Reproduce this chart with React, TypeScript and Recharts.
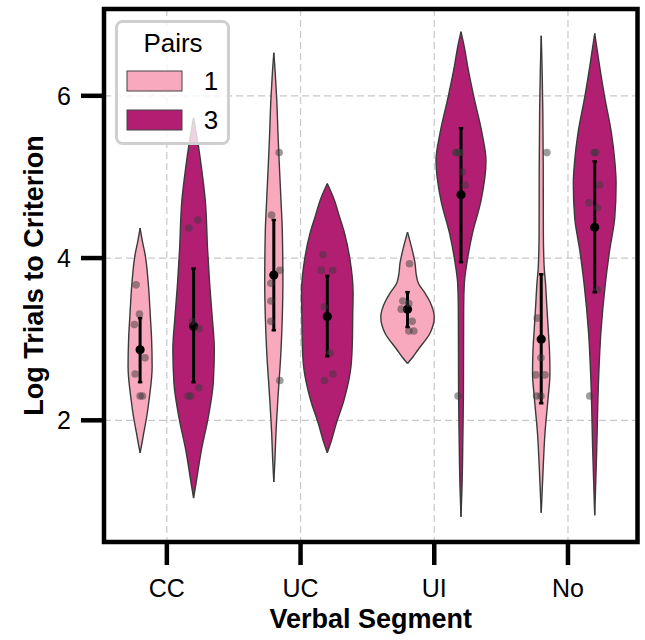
import React from 'react';
import {
  ComposedChart,
  Area,
  Scatter,
  Line,
  XAxis,
  YAxis,
  CartesianGrid,
  ReferenceArea,
  Legend,
} from 'recharts';

// ---------- data ----------
const categories = ['CC', 'UC', 'UI', 'No'];
const pairs = ['1', '3'];
const yTicks = [2, 4, 6];
const xTicks = [0, 1, 2, 3];

// violin outlines: [value, half-width of density in category units]
const violinCC1 = [[1.6, 0], [1.72, 0.014], [1.85, 0.028], [2.05, 0.05], [2.25, 0.067], [2.66, 0.09], [3.0, 0.086], [3.27, 0.077], [3.69, 0.061], [4.05, 0.037], [4.2, 0.018], [4.37, 0]];
const violinCC3 = [[1.04, 0], [1.23, 0.019], [1.63, 0.058], [2.04, 0.11], [2.46, 0.147], [2.87, 0.155], [3.3, 0.138], [3.69, 0.12], [4.1, 0.105], [4.72, 0.087], [5.1, 0.06], [5.37, 0.037], [5.73, 0]];
const violinUC1 = [[1.24, 0], [1.5, 0.008], [1.84, 0.016], [2.25, 0.03], [2.87, 0.054], [3.3, 0.064], [3.69, 0.068], [4.31, 0.064], [4.7, 0.054], [5.12, 0.042], [5.5, 0.032], [5.95, 0.022], [6.3, 0.01], [6.53, 0]];
const violinUC3 = [[1.6, 0], [1.72, 0.025], [1.96, 0.067], [2.25, 0.125], [2.66, 0.177], [3.0, 0.188], [3.27, 0.19], [3.57, 0.193], [4.0, 0.168], [4.3, 0.13], [4.5, 0.093], [4.75, 0.045], [4.92, 0]];
const violinUI1 = [[2.7, 0], [2.78, 0.04], [2.87, 0.079], [3.08, 0.17], [3.27, 0.2], [3.48, 0.162], [3.57, 0.13], [3.69, 0.081], [3.8, 0.065], [3.94, 0.056], [4.1, 0.035], [4.32, 0]];
const violinUI3 = [[0.81, 0], [1.2, 0.008], [1.8, 0.014], [2.3, 0.018], [2.87, 0.019], [3.4, 0.02], [3.69, 0.025], [3.95, 0.045], [4.3, 0.085], [4.71, 0.15], [5.2, 0.187], [5.54, 0.157], [5.98, 0.097], [6.36, 0.05], [6.6, 0.025], [6.79, 0]];
const violinNo1 = [[0.86, 0], [1.43, 0.015], [1.84, 0.028], [2.25, 0.05], [2.58, 0.065], [2.85, 0.062], [3.08, 0.054], [3.4, 0.042], [3.69, 0.032], [3.89, 0.022], [4.3, 0.016], [5.12, 0.015], [5.8, 0.012], [6.3, 0.007], [6.74, 0]];
const violinNo3 = [[0.83, 0], [1.63, 0.015], [2.46, 0.028], [3.08, 0.046], [3.69, 0.08], [4.1, 0.112], [4.5, 0.15], [4.92, 0.16], [5.2, 0.15], [5.54, 0.125], [5.98, 0.075], [6.36, 0.037], [6.77, 0]];

// individual observations: [value, jitter in category units]
const pointsCC1 = [[3.67, -0.03], [3.31, -0.005], [3.18, -0.043], [2.77, 0.037], [2.57, -0.037], [2.3, 0], [2.3, 0.018]];
const pointsCC3 = [[4.37, -0.035], [4.47, 0.032], [3.22, -0.01], [3.13, 0.04], [2.4, 0.04], [2.3, -0.042], [2.3, -0.022]];
const pointsUC1 = [[5.3, 0.04], [4.53, -0.017], [3.85, 0.045], [3.69, -0.022], [3.47, -0.022], [3.22, -0.022], [2.49, 0.045]];
const pointsUC3 = [[4.04, -0.032], [3.85, -0.045], [3.85, 0.04], [3.4, -0.022], [2.83, 0.022], [2.57, 0.042], [2.49, -0.022]];
const pointsUI1 = [[3.93, 0.015], [3.47, -0.035], [3.44, 0.01], [3.37, -0.047], [3.22, 0.035], [3.1, 0.01], [3.1, 0.047]];
const pointsUI3 = [[5.3, -0.04], [5.3, -0.015], [5.3, -0.03], [5.3, -0.008], [5.06, 0.01], [4.9, 0.03], [2.3, -0.022]];
const pointsNo1 = [[5.3, 0.042], [3.26, -0.03], [2.77, -0.002], [2.56, -0.04], [2.56, 0.028], [2.3, -0.035], [2.3, -0.002]];
const pointsNo3 = [[5.3, 0.008], [5.3, -0.005], [4.9, 0.037], [4.68, -0.043], [4.62, 0.02], [3.61, 0.02], [2.3, -0.037]];

// mean and 95% CI: [mean, low, high]
const statsCC1 = [2.87, 2.47, 3.26];
const statsCC3 = [3.16, 2.47, 3.87];
const statsUC1 = [3.79, 3.11, 4.47];
const statsUC3 = [3.28, 2.79, 3.78];
const statsUI1 = [3.37, 3.15, 3.58];
const statsUI3 = [4.78, 3.95, 5.6];
const statsNo1 = [3.0, 2.21, 3.8];
const statsNo3 = [4.38, 3.58, 5.19];

const violins = [[violinCC1, violinCC3], [violinUC1, violinUC3], [violinUI1, violinUI3], [violinNo1, violinNo3]];
const points = [[pointsCC1, pointsCC3], [pointsUC1, pointsUC3], [pointsUI1, pointsUI3], [pointsNo1, pointsNo3]];
const stats = [[statsCC1, statsCC3], [statsUC1, statsUC3], [statsUI1, statsUI3], [statsNo1, statsNo3]];

// ---------- style ----------
const FONT = '"Liberation Sans", Arial, Helvetica, sans-serif';
const pairColors = ['#F9A9BD', '#B21F72'];
const dodge = [-0.2, 0.2];
const xDomain = [-0.47, 3.52];
const yDomain = [0.5, 7.07];

const groups = categories.flatMap((cat, ci) =>
  pairs.map((p, pi) => {
    const center = ci + dodge[pi];
    const [mean, lo, hi] = stats[ci][pi];
    return {
      key: `${cat}-${p}`,
      color: pairColors[pi],
      outline: violins[ci][pi].map(([v, w]) => ({ v, range: [center - w, center + w] })),
      obs: points[ci][pi].map(([v, j]) => ({ v, x: center + j })),
      ci: [{ v: lo, x: center }, { v: hi, x: center }],
      mean: [{ v: mean, x: center }],
    };
  })
);

const Dot = (r: number, fill: string, opacity: number) => (props: any) => {
  const { cx, cy } = props;
  if (cx == null || cy == null) return <g />;
  return <circle cx={cx} cy={cy} r={r} fill={fill} fillOpacity={opacity} stroke="none" />;
};

const Cap = (props: any) => {
  const { cx, cy, index } = props;
  if (cx == null || cy == null) return <g key={index} />;
  return <line key={index} x1={cx - 2.2} x2={cx + 2.2} y1={cy} y2={cy} stroke="#000" strokeWidth={2.5} />;
};

const LegendBox = () => (
  <svg width={116} height={126} style={{ display: 'block' }}>
    <rect x={1.5} y={1.5} width={112} height={122} rx={6} ry={6} fill="#ffffff" fillOpacity={0.8} stroke="#cfcfcf" strokeWidth={3} />
    <text x={58} y={32} textAnchor="middle" fontSize={26} fontFamily={FONT} fill="#000">Pairs</text>
    {pairs.map((p, i) => (
      <g key={p}>
        <rect x={12} y={51 + i * 39} width={55} height={20} fill={pairColors[i]} stroke="#444" strokeWidth={1} />
        <text x={96} y={70 + i * 39} textAnchor="middle" fontSize={26} fontFamily={FONT} fill="#000">{p}</text>
      </g>
    ))}
  </svg>
);

export default function App() {
  return (
    <div style={{ position: 'absolute', left: 0, top: 0, background: '#fff' }}>
      <ComposedChart
        width={645}
        height={640}
        layout="vertical"
        margin={{ top: 9, right: 7.5, bottom: 0, left: 0 }}
        style={{ fontFamily: FONT }}
      >
        <CartesianGrid stroke="#c8c8c8" strokeDasharray="7 4" strokeWidth={1.2} />
        <XAxis
          type="number"
          dataKey="x"
          domain={xDomain}
          allowDataOverflow
          ticks={xTicks}
          tickFormatter={(i: number) => categories[i]}
          height={98}
          axisLine={false}
          tickLine={{ stroke: '#000', strokeWidth: 4.5 }}
          tickSize={23}
          tickMargin={14}
          tick={{ fill: '#000', fontSize: 25, fontFamily: FONT }}
          label={{ value: 'Verbal Segment', position: 'insideBottom', offset: 12, fontSize: 27, fontWeight: 700, fill: '#000', fontFamily: FONT }}
        />
        <YAxis
          type="number"
          dataKey="v"
          domain={yDomain}
          allowDataOverflow
          reversed
          ticks={yTicks}
          width={104}
          axisLine={false}
          tickLine={{ stroke: '#000', strokeWidth: 4.5 }}
          tickSize={23}
          tickMargin={10}
          tick={{ fill: '#000', fontSize: 25, fontFamily: FONT }}
          label={{ value: 'Log Trials to Criterion', angle: -90, position: 'insideLeft', offset: 33, fontSize: 27, fontWeight: 700, fill: '#000', fontFamily: FONT, style: { textAnchor: 'middle' } }}
        />
        {groups.map((g) => (
          <Area
            key={`v-${g.key}`}
            data={g.outline}
            dataKey="range"
            type="monotone"
            fill={g.color}
            fillOpacity={1}
            stroke="#3a3a3a"
            strokeWidth={1.4}
            isAnimationActive={false}
            dot={false}
            activeDot={false}
            legendType="none"
          />
        ))}
        {groups.map((g) => (
          <Line
            key={`ci-${g.key}`}
            data={g.ci}
            dataKey="x"
            stroke="#000"
            strokeWidth={3}
            dot={Cap}
            activeDot={false}
            isAnimationActive={false}
            legendType="none"
          />
        ))}
        {groups.map((g) => (
          <Scatter
            key={`m-${g.key}`}
            data={g.mean}
            shape={Dot(4.6, '#000', 1)}
            isAnimationActive={false}
            legendType="none"
          />
        ))}
        {groups.map((g) => (
          <Scatter
            key={`p-${g.key}`}
            data={g.obs}
            shape={Dot(3.8, '#3a3a3a', 0.5)}
            isAnimationActive={false}
            legendType="none"
          />
        ))}
        <ReferenceArea
          x1={xDomain[0]}
          x2={xDomain[1]}
          y1={yDomain[0]}
          y2={yDomain[1]}
          fill="none"
          stroke="#000"
          strokeWidth={4.5}
          ifOverflow="visible"
        />
        <Legend
          layout="horizontal"
          verticalAlign="middle"
          align="center"
          content={() => <LegendBox />}
          wrapperStyle={{ position: 'absolute', left: 115, top: 20, width: 116, height: 126 }}
        />
      </ComposedChart>
    </div>
  );
}
